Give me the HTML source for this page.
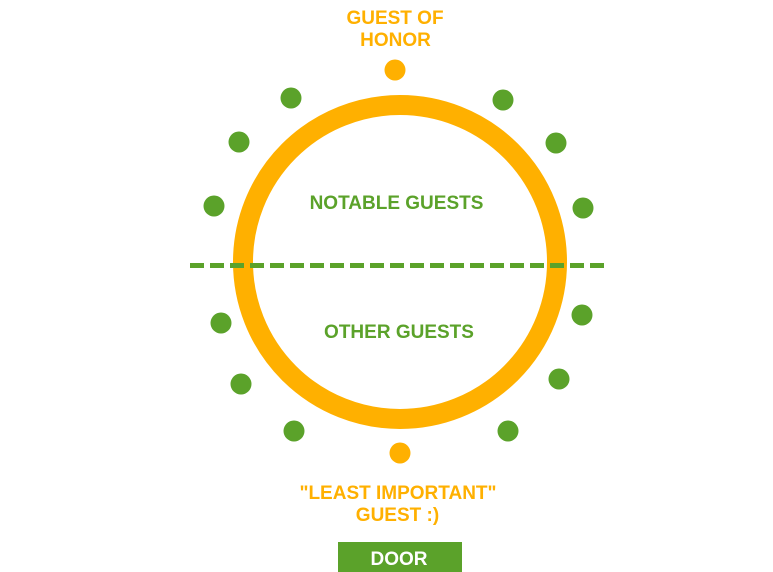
<!DOCTYPE html>
<html>
<head>
<meta charset="utf-8">
<style>
  html, body { margin: 0; padding: 0; background: #ffffff; }
  svg { display: block; }
  text { font-family: "Liberation Sans", Arial, sans-serif; font-weight: bold; font-size: 19px; text-anchor: middle; }
</style>
</head>
<body>
<svg width="773" height="572" viewBox="0 0 773 572" xmlns="http://www.w3.org/2000/svg">
  <rect x="0" y="0" width="773" height="572" fill="#ffffff"/>

  <!-- ring -->
  <circle cx="400" cy="262" r="157" fill="none" stroke="#FFB000" stroke-width="20"/>

  <!-- dashed divider -->
  <line x1="190" y1="265.5" x2="606" y2="265.5" stroke="#5BA22A" stroke-width="5" stroke-dasharray="14 6"/>

  <!-- orange guests -->
  <circle cx="395" cy="70" r="10.5" fill="#FFB000"/>
  <circle cx="400" cy="453" r="10.5" fill="#FFB000"/>

  <!-- green guests -->
  <g fill="#5BA22A">
    <circle cx="291" cy="98" r="10.5"/>
    <circle cx="239" cy="142" r="10.5"/>
    <circle cx="214" cy="206" r="10.5"/>
    <circle cx="503" cy="100" r="10.5"/>
    <circle cx="556" cy="143" r="10.5"/>
    <circle cx="583" cy="208" r="10.5"/>
    <circle cx="221" cy="323" r="10.5"/>
    <circle cx="241" cy="384" r="10.5"/>
    <circle cx="294" cy="431" r="10.5"/>
    <circle cx="582" cy="315" r="10.5"/>
    <circle cx="559" cy="379" r="10.5"/>
    <circle cx="508" cy="431" r="10.5"/>
  </g>

  <!-- labels -->
  <text x="395" y="24" fill="#FFB000">GUEST OF</text>
  <text x="395.5" y="46" fill="#FFB000">HONOR</text>

  <text x="396.5" y="209" fill="#5BA22A">NOTABLE GUESTS</text>
  <text x="399" y="338" fill="#5BA22A">OTHER GUESTS</text>

  <text x="398" y="499" fill="#FFB000">"LEAST IMPORTANT"</text>
  <text x="397.5" y="521" fill="#FFB000">GUEST :)</text>

  <!-- door -->
  <rect x="338" y="542" width="124" height="30" fill="#5BA22A"/>
  <text x="399" y="565" fill="#ffffff">DOOR</text>
</svg>
</body>
</html>
